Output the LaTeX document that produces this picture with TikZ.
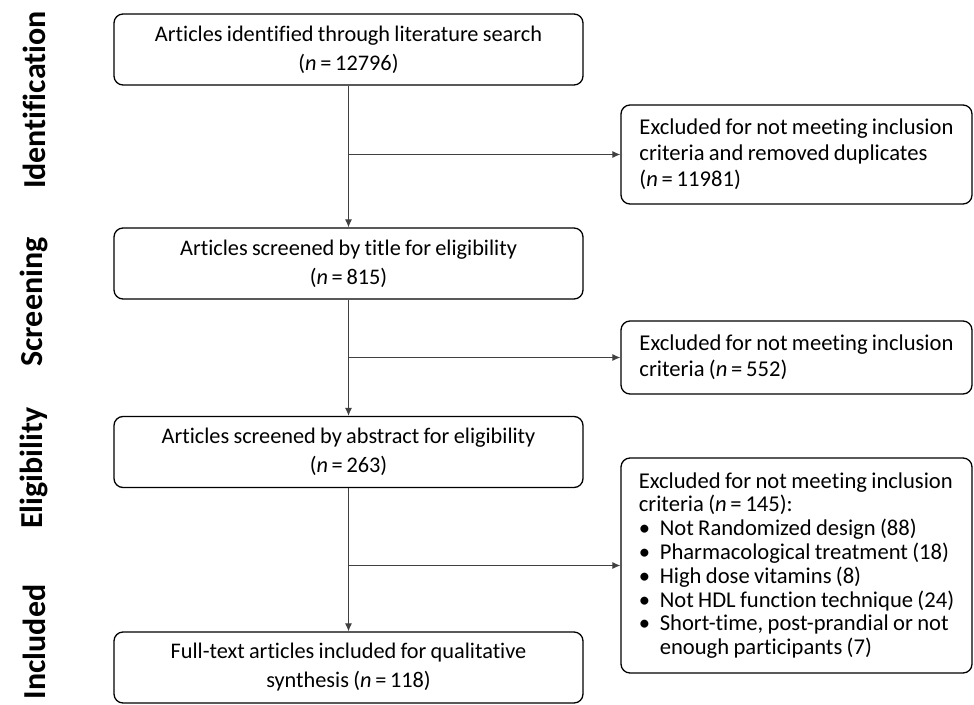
\documentclass[tikz,border=0pt]{standalone}
\usepackage{fontspec}
\setmainfont{Carlito}[Ligatures=NoCommon, WordSpace={0.85,0.3,0.3}]
\usetikzlibrary{arrows.meta}
\tikzset{
  box/.style={draw=black, line width=1.3pt, rounded corners=9pt, inner sep=0pt},
  mainbox/.style={box, minimum width=469pt, minimum height=71pt, align=center,
    font=\fontsize{22.3}{29}\selectfont},
  exbox/.style={box, minimum width=351pt, align=left,
    font=\fontsize{22.6}{26}\selectfont},
  conn/.style={draw=black!75, line width=1pt},
  arr/.style={conn, -{Latex[length=8pt, width=7pt]}},
  phase/.style={rotate=90, font=\fontsize{32}{34}\selectfont\bfseries, inner sep=0pt}
}
\newcommand{\nn}{{\itshape n}\,=\,}
\newcommand{\bul}{\makebox[21pt][l]{•}}
\begin{document}
\begin{tikzpicture}[x=1pt, y=-1pt]
\useasboundingbox (0,0) rectangle (974,704);
% phase labels
\node[phase] (pid) at (34,100) {Identification};
\node[phase] (psc) at (34,302) {Screening};
\node[phase] (pel) at (34,468) {Eligibility};
\node[phase] (pin) at (34,642) {Included};
% main boxes
\node[mainbox] (b1) at (348.5,49.5) {Articles identified through literature search\\(\nn12796)};
\node[mainbox] (b2) at (348.5,263.5) {Articles screened by title for eligibility\\(\nn815)};
\node[mainbox] (b3) at (348.5,452) {Articles screened by abstract for eligibility\\(\nn263)};
\node[mainbox] (b4) at (348.5,667.5) {Full-text articles included for qualitative\\synthesis (\nn118)};
% exclusion boxes
\node[exbox, minimum height=99pt] (e1) at (796.5,154.5) {Excluded for not meeting inclusion\\criteria and removed duplicates\\(\nn11981)};
\node[exbox, minimum height=73pt] (e2) at (796.5,357.5) {Excluded for not meeting inclusion\\criteria (\nn552)};
\node[exbox, minimum height=215pt, font=\fontsize{22.6}{23.8}\selectfont] (e3) at (796.5,565.5) {Excluded for not meeting inclusion\\criteria (\nn145):\\
\bul Not Randomized design (88)\\
\bul Pharmacological treatment (18)\\
\bul High dose vitamins (8)\\
\bul Not HDL function technique (24)\\
\bul Short-time, post-prandial or not\\
\hspace*{21pt}enough participants (7)};
% junctions
\coordinate (j1) at (b1.south |- e1.west);
\coordinate (j2) at (b2.south |- e2.west);
\coordinate (j3) at (b3.south |- e3.west);
% connectors
\draw[arr] (b1.south) -- (b2.north);
\draw[arr] (b2.south) -- (b3.north);
\draw[arr] (b3.south) -- (b4.north);
\draw[arr] (j1) -- (e1.west);
\draw[arr] (j2) -- (e2.west);
\draw[arr] (j3) -- (e3.west);
\end{tikzpicture}
\end{document}
